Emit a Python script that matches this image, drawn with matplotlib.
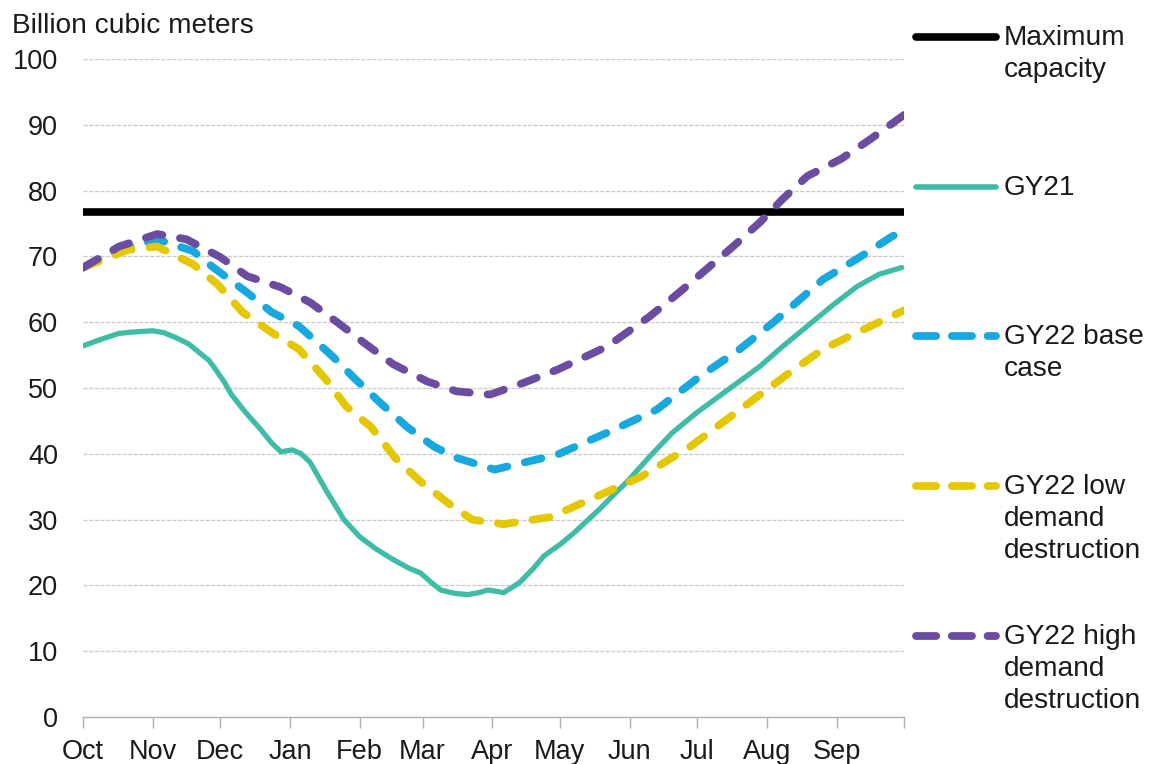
import matplotlib
matplotlib.use("Agg")
import matplotlib.pyplot as plt
from matplotlib.lines import Line2D
import pandas as pd
import numpy as np

plt.rcParams['font.family'] = ['Liberation Sans', 'DejaVu Sans']

# ---- data (day of gas year from 1 Oct, value in bcm) ----
month_labels = ["Oct", "Nov", "Dec", "Jan", "Feb", "Mar", "Apr", "May", "Jun", "Jul", "Aug", "Sep"]
max_capacity = 76.8

gy21_days = [0, 8, 16, 22, 31, 36, 41, 47, 52, 56, 59, 63, 66, 72, 79, 84, 88, 93, 97, 101, 108, 116, 123, 130, 138, 145, 150, 155, 159, 165, 171, 176, 180, 184, 187, 194, 200, 205, 212, 218, 224, 230, 236, 242, 252, 262, 273, 285, 293, 301, 311, 322, 333, 344, 354, 364]
gy21_vals = [56.4, 57.4, 58.3, 58.5, 58.7, 58.4, 57.7, 56.7, 55.3, 54.2, 52.8, 50.8, 49.0, 46.4, 43.7, 41.6, 40.3, 40.6, 40.0, 38.7, 34.5, 30.0, 27.4, 25.6, 23.9, 22.6, 21.9, 20.4, 19.3, 18.8, 18.6, 18.9, 19.3, 19.1, 18.9, 20.4, 22.5, 24.5, 26.2, 27.9, 29.8, 31.7, 33.8, 35.8, 39.6, 43.2, 46.3, 49.3, 51.3, 53.3, 56.3, 59.4, 62.5, 65.4, 67.3, 68.3]

base_days = [0, 16, 33, 49, 58, 73, 84, 96, 111, 120, 132, 144, 156, 166, 183, 211, 233, 255, 274, 292, 307, 329, 344, 360, 365]
base_vals = [68.3, 71.0, 72.6, 70.8, 68.3, 64.5, 61.5, 59.4, 54.8, 51.7, 47.8, 44.1, 41.1, 39.4, 37.6, 39.9, 43.2, 46.7, 51.7, 55.9, 60.0, 66.5, 69.6, 73.1, 73.8]

low_days = [0, 20, 33, 49, 60, 71, 84, 96, 108, 117, 128, 139, 150, 162, 173, 187, 208, 225, 248, 270, 292, 314, 329, 344, 365]
low_vals = [68.3, 71.0, 71.5, 68.8, 65.7, 61.5, 58.4, 55.9, 51.3, 47.2, 44.1, 39.3, 35.8, 32.6, 30.0, 29.3, 30.4, 33.0, 36.5, 41.1, 46.7, 52.3, 55.9, 58.4, 61.8]

high_days = [0, 16, 33, 46, 61, 73, 88, 101, 113, 126, 138, 153, 166, 181, 196, 211, 233, 252, 265, 277, 289, 301, 311, 322, 337, 350, 365]
high_vals = [68.3, 71.5, 73.4, 72.6, 69.9, 67.0, 65.3, 63.0, 60.0, 56.6, 53.6, 51.0, 49.5, 49.0, 50.8, 52.8, 56.3, 60.9, 64.5, 68.0, 71.5, 75.2, 78.7, 82.2, 84.8, 87.8, 91.5]

series_labels = ["Maximum\ncapacity", "GY21", "GY22 base\ncase", "GY22 low\ndemand\ndestruction", "GY22 high\ndemand\ndestruction"]

# ---- styles ----
C_TEAL = "#3FBCA5"
C_BLUE = "#17A8DF"
C_YEL = "#E5C700"
C_PUR = "#6B4CA1"
TXT = "#1a1a1a"
FS_TICK = 19.5
FS_TXT = 20.2
DASH = (2.2, 2.3)

W, H = 1149, 764
fig = plt.figure(figsize=(W / 100, H / 100), dpi=100)
ax = fig.add_axes([83 / W, 1 - 717 / H, (904 - 83) / W, (717 - 59) / H])

month_starts = pd.date_range("2021-10-01", periods=13, freq="MS")
tick_days = np.asarray((month_starts - month_starts[0]).days)

ax.set_xlim(tick_days[0], tick_days[-1])
ax.set_ylim(0, 100)

ax.grid(axis="y", color="#cccccc", linewidth=1.0, linestyle=(0, (3, 1)))
ax.set_axisbelow(True)

lw_d = 5.6
ax.axhline(max_capacity, color="black", linewidth=5.5, solid_capstyle="butt", zorder=3)
ax.plot(gy21_days, gy21_vals, color=C_TEAL, linewidth=3.8, solid_joinstyle="round", solid_capstyle="round", zorder=4)
for d, v, c in [(base_days, base_vals, C_BLUE), (low_days, low_vals, C_YEL), (high_days, high_vals, C_PUR)]:
    ax.plot(d, v, color=c, linewidth=lw_d, linestyle=(0, DASH), dash_capstyle="round", dash_joinstyle="round", zorder=4)

for s in ["top", "right", "left"]:
    ax.spines[s].set_visible(False)
ax.spines["bottom"].set_color("#b0b0b0")
ax.spines["bottom"].set_linewidth(1.0)

ax.set_xticks(tick_days)
ax.set_xticklabels(month_labels + [""], fontsize=FS_TICK, color=TXT)
ax.tick_params(axis="x", length=8, width=1.0, color="#b0b0b0", pad=8)
ax.set_yticks(np.arange(0, 101, 10))
ax.tick_params(axis="y", length=0, pad=18, labelsize=FS_TICK, labelcolor=TXT)

fig.text(12 / W, 1 - 26 / H, "Billion cubic meters", fontsize=FS_TXT, color=TXT, ha="left", va="center")

# ---- legend drawn on right ----
entries = [
    (37, "black", "-", 5.5),
    (187, C_TEAL, "-", 4.0),
    (336, C_BLUE, "--", lw_d),
    (486, C_YEL, "--", lw_d),
    (636, C_PUR, "--", lw_d),
]
for (yp, col, ls, lw), lab in zip(entries, series_labels):
    yf = 1 - yp / H
    if ls == "-":
        ln = Line2D([916 / W, 996 / W], [yf, yf], transform=fig.transFigure, color=col, linewidth=lw, solid_capstyle="round")
    else:
        ln = Line2D([916 / W, 996 / W], [yf, yf], transform=fig.transFigure, color=col, linewidth=lw, linestyle=(0, (2.6, 2.0)), dash_capstyle="round")
    fig.add_artist(ln)
    fig.text(1004 / W, 1 - (yp - 12) / H, lab, fontsize=FS_TXT, color=TXT, ha="left", va="top", linespacing=1.3)

fig.savefig("out.png", dpi=100, facecolor="white")
